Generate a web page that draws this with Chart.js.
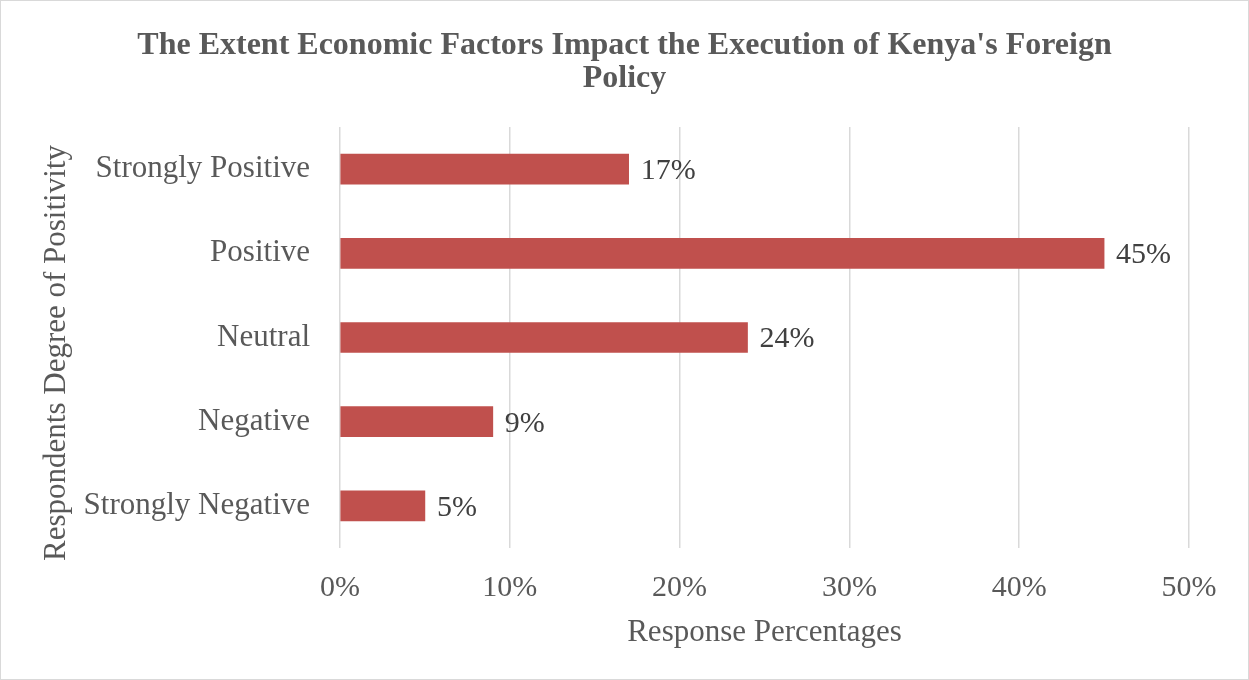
<!DOCTYPE html>
<html><head><meta charset="utf-8">
<script src="https://cdn.jsdelivr.net/npm/chart.js@4"></script>
<style>html,body{margin:0;padding:0;background:#fff}#wrap{width:1249px;height:680px;position:relative}</style>
</head><body>
<div id="wrap"><canvas id="c" width="1249" height="680"></canvas></div>
<script>
const categories = ["Strongly Positive", "Positive", "Neutral", "Negative", "Strongly Negative"];
const values = [17, 45, 24, 9, 5];
const xTicks = [0, 10, 20, 30, 40, 50];
const titleLines = ["The Extent Economic Factors Impact the Execution of Kenya's Foreign", "Policy"];
const xTitle = "Response Percentages";
const yTitle = "Respondents Degree of Positivity";

const FONT = "'Liberation Serif', 'Times New Roman', serif";
const textColor = '#595959';

const framePlugin = {
  id: 'frame',
  beforeDraw(chart) {
    const ctx = chart.ctx;
    ctx.save();
    ctx.fillStyle = '#fff';
    ctx.fillRect(0, 0, chart.width, chart.height);
    ctx.strokeStyle = '#d9d9d9';
    ctx.lineWidth = 1;
    ctx.strokeRect(0.5, 0.5, chart.width - 1, chart.height - 1);
    ctx.restore();
  },
  afterDraw(chart) {
    const ctx = chart.ctx;
    ctx.save();
    ctx.fillStyle = textColor;
    ctx.textAlign = 'center';
    ctx.textBaseline = 'middle';
    ctx.font = "bold 32px " + FONT;
    ctx.fillText(titleLines[0], chart.width / 2, 46);
    ctx.fillText(titleLines[1], chart.width / 2, 79);
    ctx.font = "31px " + FONT;
    ctx.translate(57, 353);
    ctx.rotate(-Math.PI / 2);
    ctx.fillText(yTitle, 0, 0);
    ctx.restore();
  }
};
const labelPlugin = {
  id: 'valueLabels',
  afterDatasetsDraw(chart) {
    const ctx = chart.ctx;
    const meta = chart.getDatasetMeta(0);
    ctx.save();
    ctx.font = "30px " + FONT;
    ctx.fillStyle = '#404040';
    ctx.textAlign = 'left';
    ctx.textBaseline = 'middle';
    meta.data.forEach((bar, i) => {
      ctx.fillText(values[i] + '%', bar.x + 12, bar.y + 2);
    });
    ctx.restore();
  }
};

new Chart(document.getElementById('c'), {
  type: 'bar',
  data: {
    labels: categories,
    datasets: [{ data: values, backgroundColor: '#C0504D', barThickness: 30 }]
  },
  options: {
    indexAxis: 'y',
    responsive: false,
    animation: false,
    layout: { padding: { left: 0, right: 60, top: 127, bottom: 0 } },
    plugins: {
      legend: { display: false },
      tooltip: { enabled: false },
      title: { display: false }
    },
    scales: {
      x: {
        min: 0, max: 50,
        afterBuildTicks(scale) { scale.ticks = xTicks.map(v => ({ value: v })); },
        afterFit(scale) { scale.height = 132; },
        ticks: { callback: v => v + '%', color: textColor, font: { family: FONT, size: 30 }, padding: 22, maxRotation: 0 },
        grid: { color: '#d9d9d9', lineWidth: 1.5, drawTicks: false },
        border: { display: false },
        title: { display: true, text: xTitle, color: textColor, font: { family: FONT, size: 31 }, padding: { top: 4, bottom: 29 } }
      },
      y: {
        afterFit(scale) { scale.width = 340; },
        ticks: { color: textColor, font: { family: FONT, size: 31 }, padding: 30 },
        grid: { display: false, drawTicks: false },
        border: { display: false },
        title: { display: false }
      }
    }
  },
  plugins: [framePlugin, labelPlugin]
});
</script>
</body></html>
